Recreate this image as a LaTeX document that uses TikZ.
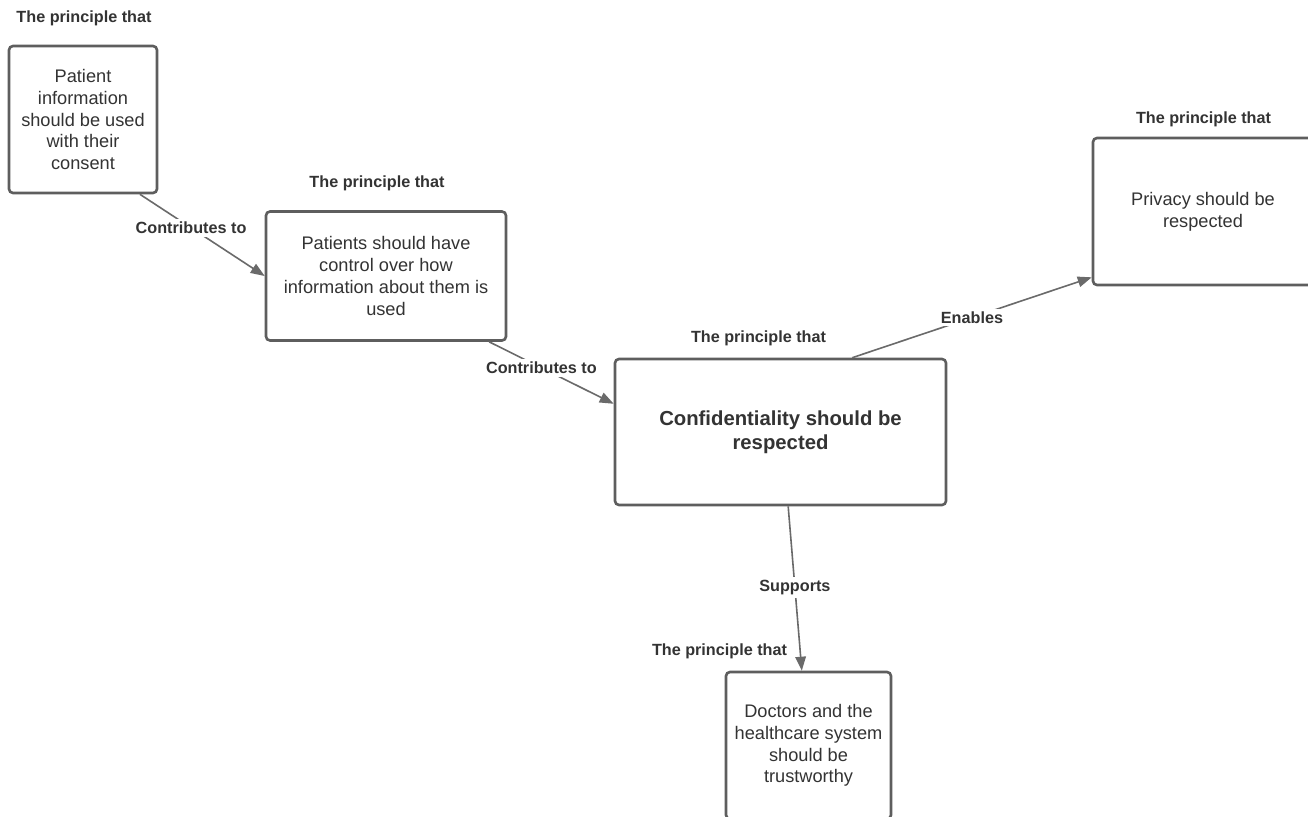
\documentclass[tikz,border=0pt]{standalone}
\usepackage{fontspec}
\setmainfont{Liberation Sans}
\usetikzlibrary{arrows.meta,calc}
\definecolor{boxline}{HTML}{5E5E5E}
\definecolor{linkgray}{HTML}{6A6A6A}
\definecolor{ink}{HTML}{333333}
\tikzset{
  principle/.style={draw=boxline, line width=2.6pt, rounded corners=4pt, fill=white,
    align=center, text=ink, inner sep=0pt, font=\fontsize{18.2}{21.8}\selectfont},
  keyprinciple/.style={principle, font=\bfseries\fontsize{20.3}{24}\selectfont},
  tag/.style={text=ink, inner sep=0pt, font=\bfseries\fontsize{16.2}{19}\selectfont},
  link/.style={draw=linkgray, line width=1.6pt, -{Triangle[length=14pt,width=10.5pt]}},
  linklabel/.style={tag, fill=white, inner sep=3pt},
}
\begin{document}
\begin{tikzpicture}[x=1pt, y=-1pt]
  \clip (0,0) rectangle (1308,816);
  \fill[white] (0,0) rectangle (1308,816);

  % principle boxes
  \node[principle, minimum width=148pt, minimum height=147pt] (consent) at (83,119.5)
    {Patient\\information\\should be used\\with their\\consent};
  \node[principle, minimum width=240pt, minimum height=129pt] (control) at (386,276)
    {Patients should have\\control over how\\information about them is\\used};
  \node[keyprinciple, minimum width=331pt, minimum height=146pt] (conf) at (780.5,432)
    {Confidentiality should be\\respected};
  \node[principle, minimum width=220pt, minimum height=147pt] (privacy) at (1203,211.5)
    {Privacy should be\\respected};
  \node[principle, minimum width=165pt, minimum height=147pt] (trust) at (808.5,745.5)
    {Doctors and the\\healthcare system\\should be\\trustworthy};

  % headings above the boxes
  \node[tag] (tconsent) at (84,18) {The principle that};
  \node[tag] (tcontrol) at (377,183) {The principle that};
  \node[tag] (tconf) at (758.5,338) {The principle that};
  \node[tag] (tprivacy) at (1203.5,119) {The principle that};
  \node[tag] (ttrust) at (719.5,651) {The principle that};

  % connectors
  \draw[link] ($(consent.south west)!0.878!(consent.south east)$) -- (control.west)
    node[linklabel, pos=0.41] (l1) {Contributes to};
  \draw[link] ($(control.south west)!0.925!(control.south east)$) --
    ($(conf.north west)!0.31!(conf.south west)$)
    node[linklabel, pos=0.42] (l2) {Contributes to};
  \draw[link] ($(conf.north west)!0.715!(conf.north east)$) --
    ($(privacy.north west)!0.94!(privacy.south west)$)
    node[linklabel, pos=0.5] (l3) {Enables};
  \draw[link] ($(conf.south west)!0.523!(conf.south east)$) --
    ($(trust.north west)!0.46!(trust.north east)$)
    node[linklabel, pos=0.495] (l4) {Supports};
\end{tikzpicture}
\end{document}
